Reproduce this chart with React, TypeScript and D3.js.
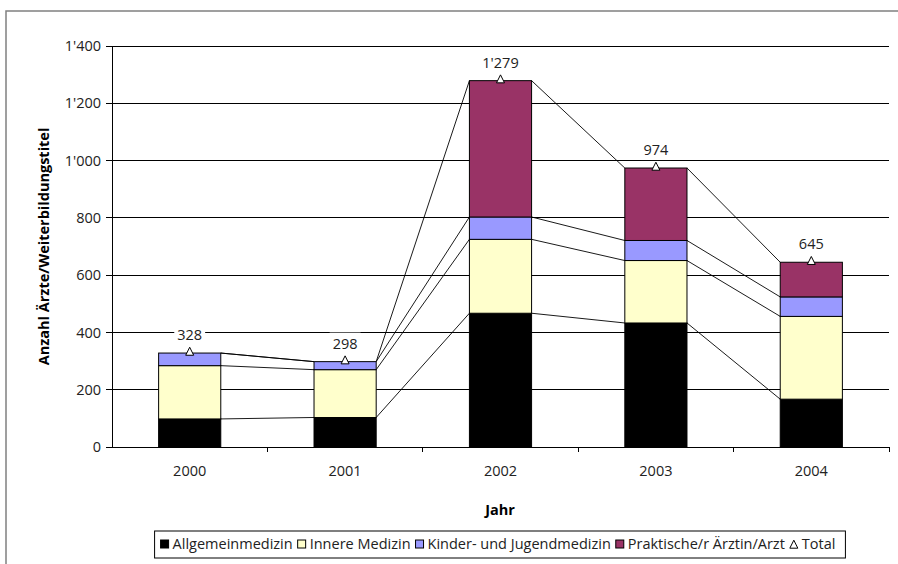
import React from 'react';
import * as d3 from 'd3';

const years = ['2000', '2001', '2002', '2003', '2004'];
const allgemein = [98, 103, 467, 433, 167];
const innere = [186, 167, 258, 218, 289];
const kinder = [44, 28, 78, 70, 68];
const praktisch = [0, 0, 476, 253, 121];
const totals = [328, 298, 1279, 974, 645];
const yTicks = [0, 200, 400, 600, 800, 1000, 1200, 1400];

const seriesNames = ['Allgemeinmedizin', 'Innere Medizin', 'Kinder- und Jugendmedizin', 'Praktische/r Ärztin/Arzt'];
const seriesColors = ['#000000', '#FFFFCC', '#9999FF', '#993366'];

const W = 898;
const H = 564;
const FONT = 'Open Sans';
const FS = 14.5;

const fmt = d3.formatLocale({ decimal: '.', thousands: "'", grouping: [3], currency: ['', ''] }).format(',d');

let ctx: CanvasRenderingContext2D | null = null;
const measure = (t: string, size = FS) => {
  if (!ctx) ctx = document.createElement('canvas').getContext('2d');
  if (!ctx) return t.length * 7;
  ctx.font = `${size}px "${FONT}"`;
  return ctx.measureText(t).width;
};

const App: React.FC = () => {
  const x = d3.scaleBand<string>().domain(years).range([112, 889]).paddingInner(0.6).paddingOuter(0.3);
  const band = d3.scaleBand<string>().domain(years).range([112, 889]);
  const y = d3.scaleLinear().domain([0, 1400]).range([447, 46]);

  const rows = years.map((yr, i) => ({
    year: yr,
    allgemein: allgemein[i],
    innere: innere[i],
    kinder: kinder[i],
    praktisch: praktisch[i],
  }));
  const keys = ['allgemein', 'innere', 'kinder', 'praktisch'];
  const stacked = d3.stack<any>().keys(keys)(rows);

  const bw = x.bandwidth();

  // legend layout
  const sq = 8;
  const items = seriesNames.map((n, i) => ({ name: n, color: seriesColors[i], w: measure(n) }));
  const totalItem = { name: 'Total', w: measure('Total') };
  const itemW = (w: number) => sq + 4 + w + 5;
  const legendInner = items.reduce((s, it) => s + itemW(it.w), 0) + itemW(totalItem.w) - 5;
  const legendW = legendInner + 16;
  const legendX = 500 - legendW / 2;
  let cursor = legendX + 6;
  const legendPos = items.map((it) => {
    const p = cursor;
    cursor += itemW(it.w);
    return p;
  });
  const totalPos = cursor;

  const tri = (cx: number, cy: number, s: number) =>
    `M${cx},${cy - s * 0.6}L${cx + s / 2},${cy + s * 0.4}L${cx - s / 2},${cy + s * 0.4}Z`;

  return (
    <svg width={W} height={H} style={{ position: 'absolute', left: 0, top: 0, background: '#fff' }}
      fontFamily={FONT}>
      {/* chart area border */}
      <rect x={6} y={11} width={W + 10} height={H + 10} fill="#fff" stroke="#808080" strokeWidth={1.5} />

      {/* gridlines */}
      {yTicks.slice(1).map((t) => (
        <line key={t} x1={112} x2={889} y1={y(t)} y2={y(t)} stroke="#000" strokeWidth={1} shapeRendering="crispEdges" />
      ))}

      {/* series lines */}
      {stacked.map((s, si) =>
        years.slice(0, -1).map((yr, i) => (
          <line key={`${si}-${i}`}
            x1={(x(yr) as number) + bw} y1={y(s[i][1])}
            x2={x(years[i + 1]) as number} y2={y(s[i + 1][1])}
            stroke="#000" strokeWidth={0.9} />
        ))
      )}

      {/* bars */}
      {stacked.map((s, si) =>
        s.map((d, i) =>
          d[1] - d[0] > 0 ? (
            <rect key={`${si}-${i}`} x={x(years[i])} y={y(d[1])} width={bw} height={y(d[0]) - y(d[1])}
              fill={seriesColors[si]} stroke="#000" strokeWidth={1} />
          ) : null
        )
      )}

      {/* axes */}
      <line x1={112} x2={112} y1={46} y2={447} stroke="#000" shapeRendering="crispEdges" />
      <line x1={112} x2={889} y1={447} y2={447} stroke="#000" shapeRendering="crispEdges" />
      {yTicks.map((t) => (
        <g key={t}>
          <line x1={106} x2={112} y1={y(t)} y2={y(t)} stroke="#000" shapeRendering="crispEdges" />
          <text x={101} y={y(t)} dy="0.35em" textAnchor="end" fontSize={FS} fill="#222">{fmt(t)}</text>
        </g>
      ))}
      {years.map((yr) => (
        <g key={yr}>
          <line x1={(band(yr) as number) + band.bandwidth()} x2={(band(yr) as number) + band.bandwidth()}
            y1={447} y2={452} stroke="#000" shapeRendering="crispEdges" />
          <text x={(band(yr) as number) + band.bandwidth() / 2} y={476} textAnchor="middle" fontSize={FS} fill="#222">{yr}</text>
        </g>
      ))}

      {/* total markers and labels */}
      {totals.map((t, i) => {
        const cx = (x(years[i]) as number) + bw / 2;
        const cy = y(t);
        const label = fmt(t);
        const lw = measure(label) + 6;
        return (
          <g key={i}>
            <rect x={cx - lw / 2} y={cy - 29} width={lw} height={21} fill="#fff" />
            <text x={cx} y={cy - 13} textAnchor="middle" fontSize={FS} fill="#222">{label}</text>
            <path d={tri(cx, cy - 1, 8)} fill="#fff" stroke="#000" strokeWidth={1} />
          </g>
        );
      })}

      {/* axis titles */}
      <text transform={`translate(49,${(46 + 447) / 2}) rotate(-90)`} textAnchor="middle" fontSize={FS}
        fontWeight="bold">Anzahl Ärzte/Weiterbildungstitel</text>
      <text x={500} y={515} textAnchor="middle" fontSize={FS} fontWeight="bold">Jahr</text>

      {/* legend */}
      <rect x={legendX} y={531} width={legendW} height={27} fill="#fff" stroke="#000" strokeWidth={1} />
      {items.map((it, i) => (
        <g key={it.name}>
          <rect x={legendPos[i]} y={540} width={sq} height={sq} fill={it.color} stroke="#000" strokeWidth={1} />
          <text x={legendPos[i] + sq + 4} y={549} fontSize={FS} fill="#222">{it.name}</text>
        </g>
      ))}
      <path d={tri(totalPos + sq / 2, 545, 8)} fill="#fff" stroke="#000" strokeWidth={1} />
      <text x={totalPos + sq + 4} y={549} fontSize={FS} fill="#222">Total</text>
    </svg>
  );
};

export default App;
